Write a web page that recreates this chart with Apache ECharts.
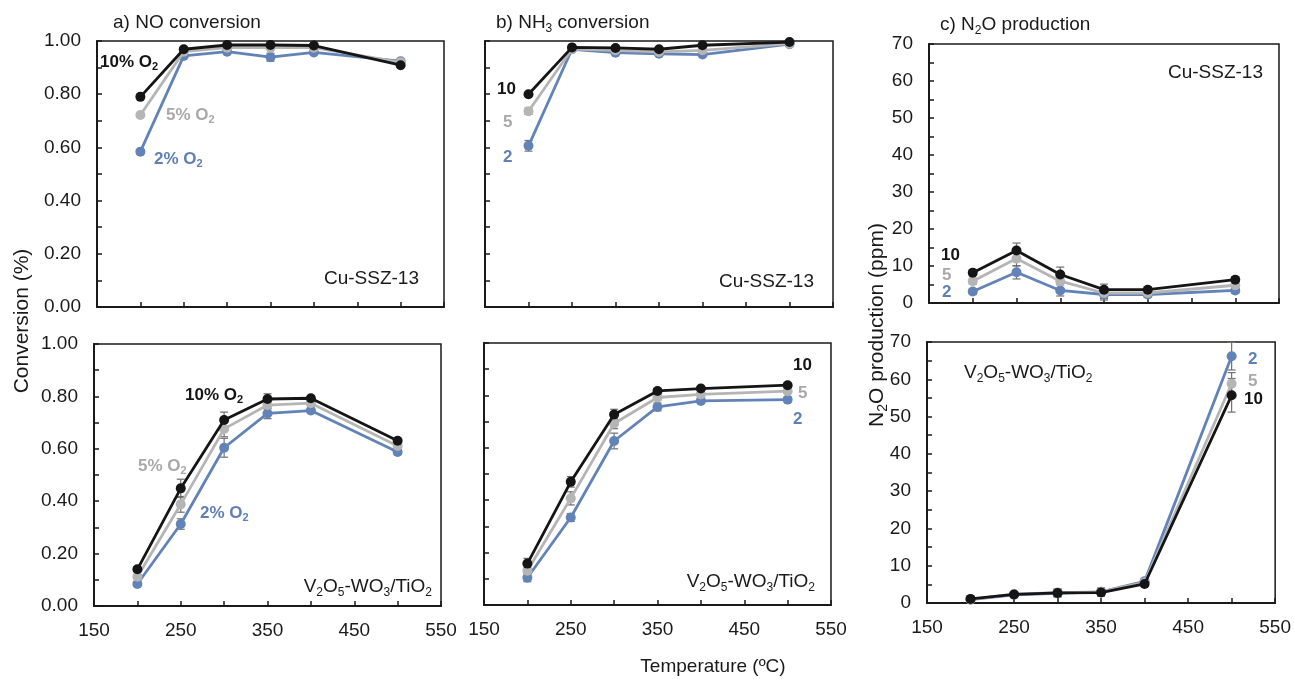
<!DOCTYPE html>
<html><head><meta charset="utf-8">
<script src="https://cdn.jsdelivr.net/npm/echarts@6/dist/echarts.min.js"></script>
<style>html,body{margin:0;padding:0;background:#fff}#c{width:1294px;height:679px}</style>
</head><body><div id="c"></div>
<script>
// ---- data ----
const temps = [200, 250, 300, 350, 400, 500];
const xTickLabels = [150, 250, 350, 450, 550];
const seriesNames = ['2% O2', '5% O2', '10% O2'];

// a) NO conversion, Cu-SSZ-13
const noCu_2  = [0.584, 0.944, 0.960, 0.939, 0.957, 0.924];
const noCu_5  = [0.722, 0.960, 0.975, 0.975, 0.975, 0.920];
const noCu_10 = [0.790, 0.969, 0.985, 0.985, 0.983, 0.909];
const noCu_e2  = [0.008, 0.006, 0.006, 0.015, 0.008, 0.008];
const noCu_e5  = [0.006, 0.005, 0.005, 0.006, 0.005, 0.010];
const noCu_e10 = [0.005, 0.005, 0.005, 0.005, 0.005, 0.006];
// a) NO conversion, V2O5-WO3/TiO2
const noV_2  = [0.084, 0.313, 0.604, 0.735, 0.746, 0.588];
const noV_5  = [0.112, 0.388, 0.676, 0.767, 0.774, 0.611];
const noV_10 = [0.140, 0.449, 0.710, 0.790, 0.793, 0.631];
const noV_e2  = [0.008, 0.020, 0.036, 0.020, 0.010, 0.010];
const noV_e5  = [0.008, 0.030, 0.030, 0.015, 0.010, 0.010];
const noV_e10 = [0.008, 0.035, 0.030, 0.020, 0.010, 0.008];
// b) NH3 conversion, Cu-SSZ-13
const nhCu_2  = [0.606, 0.969, 0.956, 0.952, 0.949, 0.988];
const nhCu_5  = [0.736, 0.970, 0.965, 0.959, 0.965, 0.990];
const nhCu_10 = [0.800, 0.976, 0.974, 0.969, 0.984, 0.996];
const nhCu_e2  = [0.020, 0.005, 0.005, 0.005, 0.005, 0.005];
const nhCu_e5  = [0.012, 0.005, 0.005, 0.005, 0.005, 0.005];
const nhCu_e10 = [0.005, 0.005, 0.005, 0.005, 0.005, 0.005];
// b) NH3 conversion, V2O5-WO3/TiO2
const nhV_2  = [0.104, 0.334, 0.626, 0.756, 0.779, 0.784];
const nhV_5  = [0.131, 0.407, 0.693, 0.792, 0.804, 0.816];
const nhV_10 = [0.158, 0.470, 0.727, 0.817, 0.826, 0.839];
const nhV_e2  = [0.015, 0.015, 0.030, 0.015, 0.008, 0.010];
const nhV_e5  = [0.010, 0.025, 0.020, 0.010, 0.008, 0.008];
const nhV_e10 = [0.020, 0.020, 0.020, 0.010, 0.008, 0.008];
// c) N2O production, Cu-SSZ-13
const n2oCu_2  = [3.1, 8.3, 3.4, 2.3, 2.3, 3.4];
const n2oCu_5  = [5.9, 12.0, 5.9, 2.7, 2.7, 4.8];
const n2oCu_10 = [8.2, 14.2, 7.7, 3.6, 3.6, 6.3];
const n2oCu_e2  = [0.8, 1.8, 1.5, 1.5, 0.8, 0.8];
const n2oCu_e5  = [0.8, 2.0, 2.0, 1.5, 0.8, 0.8];
const n2oCu_e10 = [0.8, 2.0, 2.0, 1.5, 0.8, 0.8];
// c) N2O production, V2O5-WO3/TiO2
const n2oV_2  = [0.9, 2.2, 2.6, 3.0, 5.8, 66.2];
const n2oV_5  = [1.0, 2.4, 2.8, 3.0, 5.5, 58.8];
const n2oV_10 = [1.1, 2.3, 2.7, 2.8, 5.1, 55.7];
const n2oV_e2  = [0.5, 0.5, 1.0, 1.0, 0.8, 3.7];
const n2oV_e5  = [0.5, 0.5, 1.0, 1.0, 0.5, 3.0];
const n2oV_e10 = [0.5, 0.5, 1.0, 1.0, 0.5, 4.5];

// ---- styling ----
const COLORS = ['#6283b8', '#b5b5b5', '#151515'];
const FONT = 'Liberation Sans, Arial, sans-serif';
const AX = '#1a1a1a';

const grids = [
  {left: 97,  top: 41,  width: 347, height: 266},
  {left: 94,  top: 344, width: 347, height: 262},
  {left: 485, top: 41,  width: 348, height: 266},
  {left: 484, top: 343, width: 347, height: 262},
  {left: 929, top: 44,  width: 350, height: 259},
  {left: 927, top: 342, width: 350, height: 261}
].map(g => Object.assign({show: true, borderColor: AX, borderWidth: 1.5, backgroundColor: 'transparent'}, g));

const panels = [
  {data: [noCu_2, noCu_5, noCu_10], err: [noCu_e2, noCu_e5, noCu_e10], kind: 'conv', yLabels: true, xLabels: false},
  {data: [noV_2, noV_5, noV_10], err: [noV_e2, noV_e5, noV_e10], kind: 'conv', yLabels: true, xLabels: true},
  {data: [nhCu_2, nhCu_5, nhCu_10], err: [nhCu_e2, nhCu_e5, nhCu_e10], kind: 'conv', yLabels: false, xLabels: false},
  {data: [nhV_2, nhV_5, nhV_10], err: [nhV_e2, nhV_e5, nhV_e10], kind: 'conv', yLabels: false, xLabels: true},
  {data: [n2oCu_2, n2oCu_5, n2oCu_10], err: [n2oCu_e2, n2oCu_e5, n2oCu_e10], kind: 'ppm', yLabels: true, xLabels: false},
  {data: [n2oV_2, n2oV_5, n2oV_10], err: [n2oV_e2, n2oV_e5, n2oV_e10], kind: 'ppm', yLabels: true, xLabels: true}
];

const xAxes = [], yAxes = [], series = [];
panels.forEach((p, i) => {
  xAxes.push({
    type: 'value', gridIndex: i, min: 150, max: 550, interval: 50,
    axisLine: {show: true, onZero: false, lineStyle: {color: AX, width: 2}},
    axisTick: {show: true, inside: true, length: 5, lineStyle: {color: AX, width: 1.5}},
    splitLine: {show: false},
    axisLabel: {show: p.xLabels, color: '#1a1a1a', fontSize: 19, fontFamily: FONT, margin: 15,
      formatter: v => xTickLabels.indexOf(v) >= 0 ? String(v) : ''}
  });
  const conv = p.kind === 'conv';
  yAxes.push({
    type: 'value', gridIndex: i, min: 0, max: conv ? 1 : 70, interval: conv ? 0.1 : 5,
    axisLine: {show: true, lineStyle: {color: AX, width: 2}},
    axisTick: {show: true, inside: true, length: 5, lineStyle: {color: AX, width: 1.5}},
    splitLine: {show: false},
    axisLabel: {show: p.yLabels, color: '#1a1a1a', fontSize: 19, fontFamily: FONT, margin: 16,
      formatter: v => conv ? (Math.round(v * 10) % 2 === 0 ? v.toFixed(2) : '') : (Math.round(v) % 10 === 0 ? String(Math.round(v)) : '')}
  });
  // error bars
  p.data.forEach((vals, k) => {
    const errs = p.err[k];
    series.push({
      type: 'custom', xAxisIndex: i, yAxisIndex: i, z: 1, silent: true,
      data: temps.map((t, j) => [t, vals[j] - errs[j], vals[j] + errs[j]]),
      renderItem: (params, api) => {
        const lo = api.coord([api.value(0), api.value(1)]);
        const hi = api.coord([api.value(0), api.value(2)]);
        const st = {stroke: '#707070', lineWidth: 1.2};
        const cw = 4;
        return {type: 'group', children: [
          {type: 'line', shape: {x1: lo[0], y1: lo[1], x2: hi[0], y2: hi[1]}, style: st},
          {type: 'line', shape: {x1: lo[0] - cw, y1: lo[1], x2: lo[0] + cw, y2: lo[1]}, style: st},
          {type: 'line', shape: {x1: hi[0] - cw, y1: hi[1], x2: hi[0] + cw, y2: hi[1]}, style: st}
        ]};
      }
    });
  });
  p.data.forEach((vals, k) => {
    series.push({
      name: seriesNames[k], type: 'line', xAxisIndex: i, yAxisIndex: i, z: 2 + k,
      data: temps.map((t, j) => [t, vals[j]]),
      symbol: 'circle', symbolSize: 10,
      lineStyle: {color: COLORS[k], width: 2.8},
      itemStyle: {color: COLORS[k]},
      emphasis: {disabled: true}
    });
  });
});

// ---- text ----
function rich(size, color, weight) {
  return {
    n: {fontSize: size, fontFamily: FONT, fill: color, fontWeight: weight, lineHeight: Math.round(size * 1.25), verticalAlign: 'middle'},
    s: {fontSize: Math.round(size * 0.65), fontFamily: FONT, fill: color, fontWeight: weight, lineHeight: Math.round(size * 0.65), verticalAlign: 'bottom'}
  };
}
function txt(x, y, text, size, color, weight, align, rotation) {
  return {
    type: 'text', x: x, y: y, rotation: rotation || 0, silent: true,
    style: {text: text, fill: color, rich: rich(size, color, weight || 'normal'), align: align || 'left', verticalAlign: 'middle'}
  };
}
const V2O5 = '{n|V}{s|2}{n|O}{s|5}{n|-WO}{s|3}{n|/TiO}{s|2}';
const BLK = '#151515', GRY = '#a9a9a9', BLU = '#5f80b6';
const graphics = [
  txt(113, 23, '{n|a) NO conversion}', 19, '#1a1a1a'),
  txt(496, 23, '{n|b) NH}{s|3}{n| conversion}', 19, '#1a1a1a'),
  txt(940, 25, '{n|c) N}{s|2}{n|O production}', 19, '#1a1a1a'),
  txt(22, 321, '{n|Conversion (%)}', 21, '#1a1a1a', 'normal', 'center', Math.PI / 2),
  txt(877, 325, '{n|N}{s|2}{n|O production (ppm)}', 21, '#1a1a1a', 'normal', 'center', Math.PI / 2),
  txt(713, 667, '{n|Temperature (ºC)}', 19, '#1a1a1a', 'normal', 'center'),
  // panel a top
  txt(100, 62, '{n|10% O}{s|2}', 17, BLK, 'bold'),
  txt(166, 115, '{n|5% O}{s|2}', 17, GRY, 'bold'),
  txt(154, 159, '{n|2% O}{s|2}', 17, BLU, 'bold'),
  txt(419, 279, '{n|Cu-SSZ-13}', 19, '#1a1a1a', 'normal', 'right'),
  // panel a bottom
  txt(185, 395, '{n|10% O}{s|2}', 17, BLK, 'bold'),
  txt(138, 466, '{n|5% O}{s|2}', 17, GRY, 'bold'),
  txt(200, 513, '{n|2% O}{s|2}', 17, BLU, 'bold'),
  txt(432, 587, V2O5, 19, '#1a1a1a', 'normal', 'right'),
  // panel b top
  txt(497, 89, '{n|10}', 17, BLK, 'bold'),
  txt(503, 122, '{n|5}', 17, GRY, 'bold'),
  txt(503, 157, '{n|2}', 17, BLU, 'bold'),
  txt(814, 282, '{n|Cu-SSZ-13}', 19, '#1a1a1a', 'normal', 'right'),
  // panel b bottom
  txt(793, 365, '{n|10}', 17, BLK, 'bold'),
  txt(798, 393, '{n|5}', 17, GRY, 'bold'),
  txt(793, 419, '{n|2}', 17, BLU, 'bold'),
  txt(815, 582, V2O5, 19, '#1a1a1a', 'normal', 'right'),
  // panel c top
  txt(1263, 73, '{n|Cu-SSZ-13}', 19, '#1a1a1a', 'normal', 'right'),
  txt(941, 255, '{n|10}', 17, BLK, 'bold'),
  txt(942, 275, '{n|5}', 17, GRY, 'bold'),
  txt(942, 292, '{n|2}', 17, BLU, 'bold'),
  // panel c bottom
  txt(964, 373, V2O5, 19, '#1a1a1a', 'normal', 'left'),
  txt(1248, 359, '{n|2}', 17, BLU, 'bold'),
  txt(1248, 381, '{n|5}', 17, GRY, 'bold'),
  txt(1244, 399, '{n|10}', 17, BLK, 'bold')
];

const chart = echarts.init(document.getElementById('c'), null, {renderer: 'canvas'});
chart.setOption({
  animation: false,
  backgroundColor: '#fff',
  grid: grids,
  xAxis: xAxes,
  yAxis: yAxes,
  series: series,
  graphic: graphics
});
</script>
</body></html>
